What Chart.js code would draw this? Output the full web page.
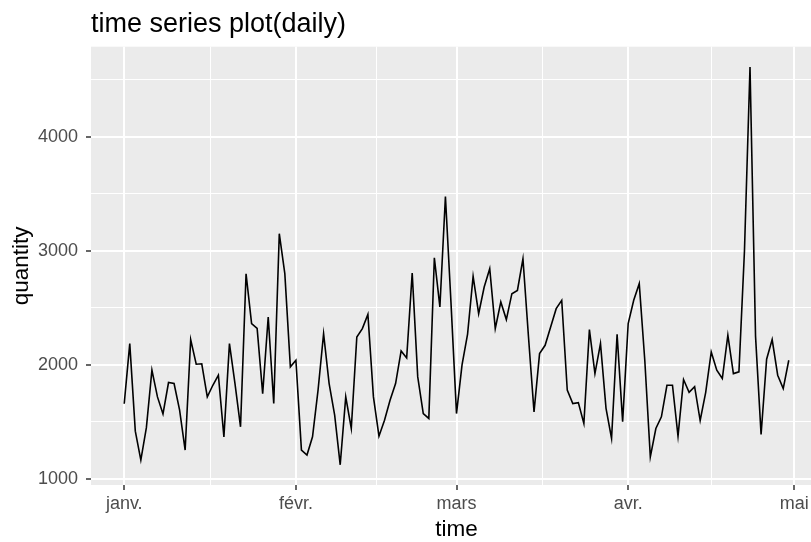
<!DOCTYPE html>
<html>
<head>
<meta charset="utf-8">
<script src="https://cdn.jsdelivr.net/npm/chart.js@4.4.1/dist/chart.umd.min.js"></script>
<style>
  html, body { margin: 0; padding: 0; background: #ffffff; overflow: hidden; }
  #wrap { position: relative; width: 822px; height: 542px; }
</style>
</head>
<body>
<div id="wrap"><canvas id="c"></canvas></div>
<script>
// ---- data (daily, 1 Jan – 30 Apr, leap year) ----
const startDate = '2020-01-01';
const quantity = [
  1660, 2187, 1420, 1166, 1450, 1954, 1720, 1570, 1846, 1837,
  1604, 1254, 2222, 2006, 2010, 1720, 1822, 1910, 1370, 2187,
  1837, 1458, 2799, 2362, 2320, 1749, 2420, 1662, 3150, 2800,
  1983, 2041, 1254, 1210, 1370, 1779, 2274, 1837, 1560, 1125,
  1720, 1443, 2245, 2318, 2443, 1720, 1376, 1516, 1691, 1837,
  2123, 2061, 2805, 1895, 1574, 1531, 2939, 2508, 3476, 2550,
  1574, 2000, 2270, 2776, 2449, 2683, 2843, 2318, 2551, 2397,
  2624, 2653, 2930, 2245, 1589, 2099, 2172, 2333, 2493, 2566,
  1779, 1662, 1670, 1487, 2309, 1924, 2187, 1620, 1356, 2268,
  1502, 2362, 2566, 2712, 2041, 1195, 1443, 1545, 1822, 1822,
  1376, 1872, 1760, 1810, 1513, 1760, 2114, 1954, 1881, 2260,
  1924, 1939, 3000, 4610, 2250, 1390, 2050, 2222, 1910, 1793,
  2041
];
const monthLabels = ['janv.', 'févr.', 'mars', 'avr.', 'mai'];
const monthStartDays = [0, 31, 60, 91, 121];      // day offsets from startDate
const monthMidDays = [15.5, 45.5, 75.5, 106];      // minor grid breaks
const yMajorTicks = [1000, 2000, 3000, 4000];
const yMinorTicks = [1500, 2500, 3500, 4500];
const titleText = 'time series plot(daily)';
const xTitle = 'time';
const yTitle = 'quantity';

const points = quantity.map((v, i) => ({ x: i, y: v }));
const FONT = '"Liberation Sans", Arial, sans-serif';

const panelBg = {
  id: 'panelBg',
  beforeDraw(chart) {
    const a = chart.chartArea, ctx = chart.ctx;
    ctx.save();
    ctx.fillStyle = '#EBEBEB';
    ctx.fillRect(a.left, a.top, a.right - a.left, a.bottom - a.top);
    ctx.restore();
  }
};

const isXMajor = v => monthStartDays.includes(v);
const isYMajor = v => yMajorTicks.includes(v);

new Chart(document.getElementById('c'), {
  type: 'line',
  data: {
    datasets: [{
      data: points,
      borderColor: '#000000',
      borderWidth: 1.6,
      pointRadius: 0,
      tension: 0,
      fill: false
    }]
  },
  options: {
    responsive: true,
    maintainAspectRatio: false,
    animation: false,
    devicePixelRatio: 1,
    layout: { padding: 0 },
    plugins: {
      legend: { display: false },
      tooltip: { enabled: false },
      title: {
        display: true,
        text: titleText,
        align: 'start',
        fullSize: false,
        color: '#000000',
        font: { family: FONT, size: 27, weight: 'normal', lineHeight: 1.2 },
        padding: { top: 8, bottom: 6.3 }
      }
    },
    scales: {
      x: {
        type: 'linear',
        min: -6,
        max: 126,
        afterBuildTicks: s => {
          s.ticks = monthStartDays.concat(monthMidDays).sort((a, b) => a - b).map(v => ({ value: v }));
        },
        afterFit: s => { s.height = 57; },
        border: { display: false },
        grid: {
          color: '#FFFFFF',
          lineWidth: c => (c.tick && isXMajor(c.tick.value)) ? 2 : 1,
          tickColor: c => (c.tick && isXMajor(c.tick.value)) ? '#333333' : 'rgba(0,0,0,0)',
          tickWidth: 1.5,
          tickLength: 5,
          drawTicks: true
        },
        ticks: {
          autoSkip: false,
          maxRotation: 0,
          minRotation: 0,
          padding: 3,
          color: '#4D4D4D',
          font: { family: FONT, size: 18 },
          callback: v => {
            const k = monthStartDays.indexOf(v);
            return k >= 0 ? monthLabels[k] : '';
          }
        },
        title: {
          display: true,
          text: xTitle,
          color: '#000000',
          font: { family: FONT, size: 22.5, lineHeight: 1.2 },
          padding: { top: 0, bottom: -1 }
        }
      },
      y: {
        type: 'linear',
        min: 948,
        max: 4788,
        afterBuildTicks: s => {
          s.ticks = yMajorTicks.concat(yMinorTicks).sort((a, b) => a - b).map(v => ({ value: v }));
        },
        afterFit: s => { s.width = 91; },
        border: { display: false },
        grid: {
          color: '#FFFFFF',
          lineWidth: c => (c.tick && isYMajor(c.tick.value)) ? 2 : 1,
          tickColor: c => (c.tick && isYMajor(c.tick.value)) ? '#333333' : 'rgba(0,0,0,0)',
          tickWidth: 1.5,
          tickLength: 5,
          drawTicks: true
        },
        ticks: {
          autoSkip: false,
          padding: 8,
          color: '#4D4D4D',
          font: { family: FONT, size: 18 },
          callback: v => isYMajor(v) ? String(v) : ''
        },
        title: {
          display: true,
          text: yTitle,
          color: '#000000',
          font: { family: FONT, size: 22.5, lineHeight: 1.2 },
          padding: { top: 8.5, bottom: 0 }
        }
      }
    }
  },
  plugins: [panelBg]
});
</script>
</body>
</html>
